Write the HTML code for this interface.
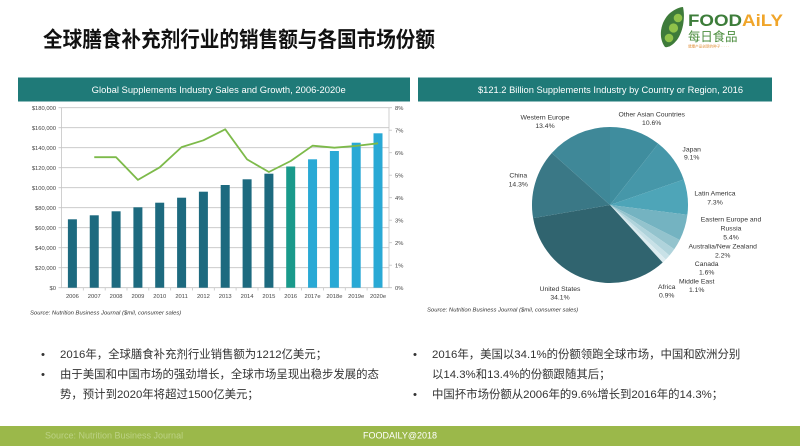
<!DOCTYPE html>
<html><head><meta charset="utf-8"><style>
html,body{margin:0;padding:0;background:#fff;}
svg{display:block;}
.cj{font-family:"Liberation Sans","Noto Sans CJK SC",sans-serif;}
.lb{font-family:"Liberation Sans",sans-serif;}
</style></head><body>
<svg width="800" height="446" viewBox="0 0 800 446" xmlns="http://www.w3.org/2000/svg">
<rect width="800" height="446" fill="#fff"/>
<!-- Title -->
<text x="43" y="47" class="cj" font-size="21.8" font-weight="bold" fill="#111" textLength="392" lengthAdjust="spacingAndGlyphs">全球膳食补充剂行业的销售额与各国市场份额</text>

<!-- Logo -->
<g>
<path d="M665,47 C658,38 660,22 670,13 C675,9 680,7 683,7 C685,16 684,30 677,40 C673,45 668,48 665,47 Z" fill="#3e7b3a"/>
<circle cx="678" cy="18" r="4.3" fill="#8fc24a"/>
<circle cx="673.5" cy="28" r="4.6" fill="#8fc24a"/>
<circle cx="669" cy="38" r="4.3" fill="#8fc24a"/>
<text x="688" y="26" class="lb" font-size="17" font-weight="bold" textLength="95" lengthAdjust="spacingAndGlyphs"><tspan fill="#3d7d3a">FOOD</tspan><tspan fill="#f0a52a">AiLY</tspan></text>
<text x="688" y="41" class="cj" font-size="12.4" fill="#4a8c3c">每日食品</text>
<text x="688" y="47.5" class="cj" font-size="3.6" fill="#e0903a">健康产品创新的种子 · · · ·</text>
</g>

<!-- Left header -->
<rect x="18" y="77.5" width="392" height="24" fill="#1f7a78"/>
<text x="91.7" y="93" class="lb" font-size="9" fill="#fff" textLength="254" lengthAdjust="spacingAndGlyphs">Global Supplements Industry Sales and Growth, 2006-2020e</text>

<!-- Right header -->
<rect x="418" y="77.5" width="354" height="24" fill="#1f7a78"/>
<text x="478" y="93" class="lb" font-size="9" fill="#fff" textLength="265" lengthAdjust="spacingAndGlyphs">$121.2 Billion Supplements Industry by Country or Region, 2016</text>

<!-- Bar chart grid -->
<g stroke="#c4c4c4" stroke-width="0.8">
<line x1="58.5" y1="287.7" x2="392" y2="287.7"/>
<line x1="58.5" y1="267.7" x2="389" y2="267.7"/>
<line x1="58.5" y1="247.7" x2="389" y2="247.7"/>
<line x1="58.5" y1="227.7" x2="389" y2="227.7"/>
<line x1="58.5" y1="207.7" x2="389" y2="207.7"/>
<line x1="58.5" y1="187.7" x2="389" y2="187.7"/>
<line x1="58.5" y1="167.7" x2="389" y2="167.7"/>
<line x1="58.5" y1="147.7" x2="389" y2="147.7"/>
<line x1="58.5" y1="127.7" x2="389" y2="127.7"/>
<line x1="58.5" y1="107.7" x2="392" y2="107.7"/>
<line x1="61.5" y1="107.7" x2="61.5" y2="287.7"/>
<line x1="389" y1="107.7" x2="389" y2="287.7"/>
<line x1="389" y1="265.2" x2="392" y2="265.2"/>
<line x1="389" y1="242.7" x2="392" y2="242.7"/>
<line x1="389" y1="220.2" x2="392" y2="220.2"/>
<line x1="389" y1="197.7" x2="392" y2="197.7"/>
<line x1="389" y1="175.2" x2="392" y2="175.2"/>
<line x1="389" y1="152.7" x2="392" y2="152.7"/>
<line x1="389" y1="130.2" x2="392" y2="130.2"/>
<line x1="83.3" y1="287.7" x2="83.3" y2="290.5"/>
<line x1="105.2" y1="287.7" x2="105.2" y2="290.5"/>
<line x1="127" y1="287.7" x2="127" y2="290.5"/>
<line x1="148.8" y1="287.7" x2="148.8" y2="290.5"/>
<line x1="170.7" y1="287.7" x2="170.7" y2="290.5"/>
<line x1="192.5" y1="287.7" x2="192.5" y2="290.5"/>
<line x1="214.3" y1="287.7" x2="214.3" y2="290.5"/>
<line x1="236.1" y1="287.7" x2="236.1" y2="290.5"/>
<line x1="258" y1="287.7" x2="258" y2="290.5"/>
<line x1="279.8" y1="287.7" x2="279.8" y2="290.5"/>
<line x1="301.6" y1="287.7" x2="301.6" y2="290.5"/>
<line x1="323.5" y1="287.7" x2="323.5" y2="290.5"/>
<line x1="345.3" y1="287.7" x2="345.3" y2="290.5"/>
<line x1="367.1" y1="287.7" x2="367.1" y2="290.5"/>
</g>

<!-- Left axis labels -->
<g class="lb" font-size="5.8" fill="#444" text-anchor="end">
<text x="56" y="289.8">$0</text>
<text x="56" y="269.8">$20,000</text>
<text x="56" y="249.8">$40,000</text>
<text x="56" y="229.8">$60,000</text>
<text x="56" y="209.8">$80,000</text>
<text x="56" y="189.8">$100,000</text>
<text x="56" y="169.8">$120,000</text>
<text x="56" y="149.8">$140,000</text>
<text x="56" y="129.8">$160,000</text>
<text x="56" y="109.8">$180,000</text>
</g>
<!-- Right axis labels -->
<g class="lb" font-size="5.8" fill="#444">
<text x="395" y="289.8">0%</text>
<text x="395" y="267.3">1%</text>
<text x="395" y="244.8">2%</text>
<text x="395" y="222.3">3%</text>
<text x="395" y="199.8">4%</text>
<text x="395" y="177.3">5%</text>
<text x="395" y="154.8">6%</text>
<text x="395" y="132.3">7%</text>
<text x="395" y="109.8">8%</text>
</g>

<!-- Bars -->
<g fill="#1d6a7f">
<rect x="67.9" y="219.3" width="9" height="68.4"/>
<rect x="89.75" y="215.3" width="9" height="72.4"/>
<rect x="111.6" y="211.3" width="9" height="76.4"/>
<rect x="133.4" y="207.3" width="9" height="80.4"/>
<rect x="155.2" y="202.7" width="9" height="85"/>
<rect x="177.1" y="197.7" width="9" height="90"/>
<rect x="198.9" y="191.7" width="9" height="96"/>
<rect x="220.7" y="185" width="9" height="102.7"/>
<rect x="242.6" y="179.3" width="9" height="108.4"/>
<rect x="264.4" y="173.7" width="9" height="114"/>
</g>
<rect x="286.2" y="166.5" width="9" height="121.2" fill="#1a9a8b"/>
<g fill="#29a9d5">
<rect x="308.05" y="159.3" width="9" height="128.4"/>
<rect x="329.9" y="151" width="9" height="136.7"/>
<rect x="351.7" y="142.7" width="9" height="145"/>
<rect x="373.5" y="133.3" width="9" height="154.4"/>
</g>

<!-- Growth line -->
<polyline fill="none" stroke="#7dba4a" stroke-width="1.8" stroke-linejoin="round"
points="94.25,157.2 116.08,157.2 137.91,179.9 159.74,167.3 181.57,147.1 203.4,140.3 225.23,129.3 247.06,159.4 268.89,172 290.72,161 312.55,145.7 334.38,147.7 356.21,145.9 378.04,143.3"/>

<!-- X labels -->
<g class="lb" font-size="5.8" fill="#444" text-anchor="middle">
<text x="72.4" y="297.8">2006</text>
<text x="94.25" y="297.8">2007</text>
<text x="116.08" y="297.8">2008</text>
<text x="137.91" y="297.8">2009</text>
<text x="159.74" y="297.8">2010</text>
<text x="181.57" y="297.8">2011</text>
<text x="203.4" y="297.8">2012</text>
<text x="225.23" y="297.8">2013</text>
<text x="247.06" y="297.8">2014</text>
<text x="268.89" y="297.8">2015</text>
<text x="290.72" y="297.8">2016</text>
<text x="312.55" y="297.8">2017e</text>
<text x="334.38" y="297.8">2018e</text>
<text x="356.21" y="297.8">2019e</text>
<text x="378.04" y="297.8">2020e</text>
</g>
<text x="30" y="314.5" class="lb" font-size="5.9" font-style="italic" fill="#333">Source: Nutrition Business Journal ($mil, consumer sales)</text>

<!-- Pie -->
<g stroke="none">
<path d="M610,205 L610,127 A78,78 0 0,1 658.2,143.68 Z" fill="#3f8d9e"/>
<path d="M610,205 L658.2,143.68 A78,78 0 0,1 683.72,179.51 Z" fill="#4697a9"/>
<path d="M610,205 L683.72,179.51 A78,78 0 0,1 687.38,214.78 Z" fill="#4ea5b8"/>
<path d="M610,205 L687.38,214.78 A78,78 0 0,1 679.72,239.97 Z" fill="#74b3c1"/>
<path d="M610,205 L679.72,239.97 A78,78 0 0,1 674.25,249.23 Z" fill="#93c3cd"/>
<path d="M610,205 L674.25,249.23 A78,78 0 0,1 669.47,255.47 Z" fill="#afd3db"/>
<path d="M610,205 L669.47,255.47 A78,78 0 0,1 665.82,259.48 Z" fill="#c8e1e7"/>
<path d="M610,205 L665.82,259.48 A78,78 0 0,1 662.67,262.54 Z" fill="#ddecf0"/>
<path d="M610,205 L662.67,262.54 A78,78 0 0,1 533.12,218.17 Z" fill="#30646f"/>
<path d="M610,205 L533.12,218.17 A78,78 0 0,1 551.83,153.01 Z" fill="#3a7886"/>
<path d="M610,205 L551.83,153.01 A78,78 0 0,1 610,127 Z" fill="#3f8898"/>
</g>

<!-- Pie labels -->
<g class="lb" font-size="6.8" fill="#333" text-anchor="middle">
<text x="545" y="119.6">Western Europe</text>
<text x="545" y="128">13.4%</text>
<text x="651.7" y="116.3">Other Asian Countries</text>
<text x="651.7" y="125">10.6%</text>
<text x="691.7" y="151.3">Japan</text>
<text x="691.7" y="159.6">9.1%</text>
<text x="715" y="195.6">Latin America</text>
<text x="715" y="204.3">7.3%</text>
<text x="731" y="221.6">Eastern Europe and</text>
<text x="731" y="230.3">Russia</text>
<text x="731" y="239.3">5.4%</text>
<text x="722.7" y="248.6">Australia/New Zealand</text>
<text x="722.7" y="257.3">2.2%</text>
<text x="706.7" y="266">Canada</text>
<text x="706.7" y="274.6">1.6%</text>
<text x="696.7" y="283.3">Middle East</text>
<text x="696.7" y="292">1.1%</text>
<text x="666.7" y="289">Africa</text>
<text x="666.7" y="297.6">0.9%</text>
<text x="560" y="291">United States</text>
<text x="560" y="299.3">34.1%</text>
<text x="518.3" y="177.3">China</text>
<text x="518.3" y="186.3">14.3%</text>
</g>
<text x="427" y="311.5" class="lb" font-size="5.9" font-style="italic" fill="#333">Source: Nutrition Business Journal ($mil, consumer sales)</text>

<!-- Bullets -->
<g class="cj" font-size="11.4" fill="#333">
<text x="41" y="358">•</text>
<text x="60" y="358">2016年，全球膳食补充剂行业销售额为1212亿美元；</text>
<text x="41" y="378">•</text>
<text x="60" y="378">由于美国和中国市场的强劲增长，全球市场呈现出稳步发展的态</text>
<text x="60" y="398">势，预计到2020年将超过1500亿美元；</text>
<text x="413" y="358">•</text>
<text x="432" y="358">2016年，美国以34.1%的份额领跑全球市场，中国和欧洲分别</text>
<text x="432" y="378">以14.3%和13.4%的份额跟随其后；</text>
<text x="413" y="398">•</text>
<text x="432" y="398">中国抔市场份额从2006年的9.6%增长到2016年的14.3%；</text>
</g>

<!-- Footer -->
<rect x="0" y="426" width="800" height="20" fill="#9bb84a"/>
<text x="45" y="438.5" class="lb" font-size="9" fill="#bcd285">Source: Nutrition Business Journal</text>
<text x="400" y="438.5" class="lb" font-size="9" fill="#ffffff" text-anchor="middle">FOODAILY@2018</text>
</svg>
</body></html>
